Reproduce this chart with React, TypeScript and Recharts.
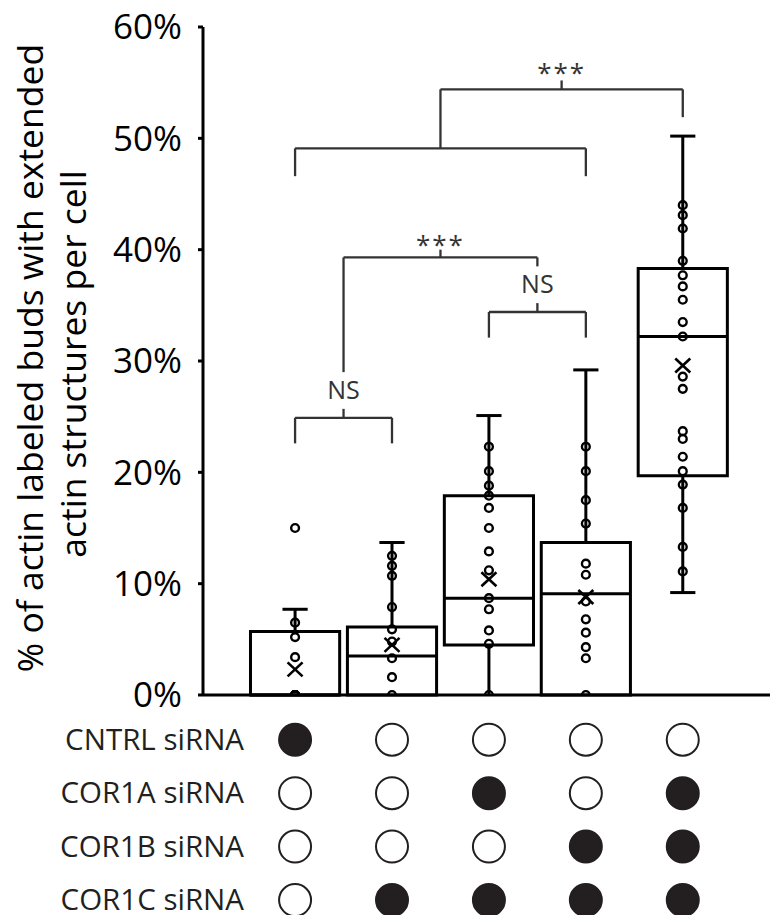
import React from "react";
import {
  ComposedChart,
  Scatter,
  XAxis,
  YAxis,
  ReferenceArea,
  ReferenceLine,
  Label,
} from "recharts";

const GROUPS = [1, 2, 3, 4, 5];
const Y_TICKS = [0, 10, 20, 30, 40, 50, 60];

// box plot stats, % per cell
const MINS = [0, 0, 0, 0, 9.2];
const Q1S = [0, 0, 4.5, 0, 19.7];
const MEDIANS = [0, 3.5, 8.7, 9.1, 32.2];
const Q3S = [5.7, 6.1, 17.9, 13.7, 38.3];
const MAXS = [7.7, 13.7, 25.1, 29.2, 50.2];
const MEANS = [2.3, 4.5, 10.4, 8.8, 29.6];

// individual cells
const POINTS_1 = [15.0, 6.5, 5.2, 3.4, 0, 0, 0, 0, 0, 0, 0, 0, 0];
const POINTS_2 = [12.5, 11.6, 10.7, 7.9, 5.9, 4.8, 3.3, 1.6, 0];
const POINTS_3 = [22.3, 20.1, 18.8, 17.9, 16.8, 15.0, 12.9, 11.2, 8.7, 7.7, 5.8, 4.6, 0];
const POINTS_4 = [22.3, 20.1, 17.5, 15.4, 11.8, 10.8, 8.4, 6.8, 5.6, 4.3, 3.3, 0];
const POINTS_5 = [
  44.0, 43.1, 41.9, 39.0, 37.7, 36.7, 35.5, 33.5, 32.2, 28.6, 27.5, 23.7, 23.0,
  21.4, 20.1, 18.9, 16.8, 13.3, 11.1,
];

// siRNA table (1 = transfected)
const ROW_NAMES = ["CNTRL siRNA", "COR1A siRNA", "COR1B siRNA", "COR1C siRNA"];
const CNTRL = [1, 0, 0, 0, 0];
const COR1A = [0, 0, 1, 0, 1];
const COR1B = [0, 0, 0, 1, 1];
const COR1C = [0, 1, 1, 1, 1];

// significance brackets: [x1, y1, x2, y2]
const BRACKETS = [
  [1, 22.6, 1, 24.9], [1, 24.9, 2, 24.9], [2, 24.9, 2, 22.6], [1.5, 24.9, 1.5, 25.7],
  [1.5, 29.0, 1.5, 39.3], [1.5, 39.3, 3.5, 39.3], [3.5, 39.3, 3.5, 38.5], [2.5, 39.3, 2.5, 40.0],
  [3, 32.1, 3, 34.4], [3, 34.4, 4, 34.4], [4, 34.4, 4, 32.1], [3.5, 34.4, 3.5, 35.2],
  [1, 46.6, 1, 49.1], [1, 49.1, 4, 49.1], [4, 49.1, 4, 46.6], [2.5, 49.1, 2.5, 54.4],
  [2.5, 54.4, 5, 54.4], [5, 54.4, 5, 51.9], [3.75, 54.4, 3.75, 55.2],
];
const SIG_LABELS = [
  { x: 1.5, y: 26.6, label: "NS" },
  { x: 2.5, y: 39.6, label: "***" },
  { x: 3.5, y: 36.1, label: "NS" },
  { x: 3.75, y: 55.1, label: "***" },
];

const FONT = "'Open Sans', sans-serif";
const INK = "#231f20";

const POINTS = [POINTS_1, POINTS_2, POINTS_3, POINTS_4, POINTS_5];
const pointData = POINTS.flatMap((vals, i) => vals.map((v) => ({ x: GROUPS[i], y: v })));
const meanData = GROUPS.map((g, i) => ({ x: g, y: MEANS[i] }));
const tableRows = [CNTRL, COR1A, COR1B, COR1C];
const tableData = tableRows.flatMap((row, r) =>
  row.map((on, i) => ({ x: GROUPS[i], y: r, on }))
);

const OpenDot = (p: any) => (
  <circle cx={p.cx} cy={p.cy} r={3.9} fill="none" stroke="#000" strokeWidth={2.4} />
);

const MeanCross = (p: any) => (
  <g stroke="#000" strokeWidth={2.6}>
    <line x1={p.cx - 7.5} y1={p.cy - 7} x2={p.cx + 7.5} y2={p.cy + 7} />
    <line x1={p.cx - 7.5} y1={p.cy + 7} x2={p.cx + 7.5} y2={p.cy - 7} />
  </g>
);

const SigText = (p: any) => (
  <text
    x={p.cx}
    y={p.cy}
    textAnchor="middle"
    fontFamily={FONT}
    fontSize={p.payload.label === "NS" ? 25 : 26}
    letterSpacing={p.payload.label === "NS" ? 0 : 2}
    fill="#333"
  >
    {p.payload.label}
  </text>
);

const RowCircle = (p: any) => (
  <circle
    cx={p.cx}
    cy={p.cy}
    r={16}
    fill={p.payload.on ? INK : "#fff"}
    stroke={INK}
    strokeWidth={2}
  />
);

const RowTick = (p: any) => (
  <text
    x={p.x + 41}
    y={p.y}
    dy="0.34em"
    textAnchor="end"
    fontFamily={FONT}
    fontSize={29.5}
    fill={INK}
  >
    {ROW_NAMES[p.payload.value]}
  </text>
);

const AxisTitle = (p: any) => {
  const vb = p.viewBox;
  const cy1 = vb.y + vb.height / 2 - 3;
  const cy2 = cy1 + 6;
  return (
    <g fontFamily={FONT} fontSize={35.5} fill="#000" textAnchor="middle">
      <text x={43} y={cy1} transform={`rotate(-90 43 ${cy1})`}>
        % of actin labeled buds with extended
      </text>
      <text x={86} y={cy2} transform={`rotate(-90 86 ${cy2})`}>
        actin structures per cell
      </text>
    </g>
  );
};

export default function App() {
  return (
    <div
      style={{
        position: "absolute",
        left: 0,
        top: 0,
        width: 771,
        height: 915,
        overflow: "hidden",
        background: "#fff",
      }}
    >
      <ComposedChart
        width={771}
        height={720}
        margin={{ top: 27, right: 1, bottom: 20, left: 0 }}
      >
        <XAxis
          type="number"
          dataKey="x"
          domain={[0.05, 5.9]}
          allowDataOverflow
          tick={false}
          tickLine={false}
          height={5}
          axisLine={{ stroke: "#000", strokeWidth: 3 }}
        />
        <YAxis
          type="number"
          dataKey="y"
          domain={[0, 60]}
          ticks={Y_TICKS}
          interval={0}
          allowDataOverflow
          width={203}
          tickFormatter={(v) => `${v}%`}
          tickSize={5}
          tickMargin={16}
          axisLine={{ stroke: "#000", strokeWidth: 3 }}
          tickLine={{ stroke: "#000", strokeWidth: 3 }}
          tick={{ fill: "#000", fontSize: 35, fontFamily: FONT }}
        >
          <Label content={AxisTitle} />
        </YAxis>

        {GROUPS.map((g, i) => (
          <ReferenceArea
            key={`box-${g}`}
            x1={g - 0.46}
            x2={g + 0.46}
            y1={Q1S[i]}
            y2={Q3S[i]}
            fill="#fff"
            fillOpacity={0}
            stroke="#000"
            strokeWidth={3}
            strokeOpacity={1}
            ifOverflow="visible"
          />
        ))}
        {GROUPS.map((g, i) => (
          <ReferenceLine
            key={`med-${g}`}
            segment={[{ x: g - 0.46, y: MEDIANS[i] }, { x: g + 0.46, y: MEDIANS[i] }]}
            stroke="#000"
            strokeWidth={3}
            ifOverflow="visible"
          />
        ))}
        {GROUPS.map((g, i) => (
          <ReferenceLine
            key={`wu-${g}`}
            segment={[{ x: g, y: Q3S[i] }, { x: g, y: MAXS[i] }]}
            stroke="#000"
            strokeWidth={3}
            ifOverflow="visible"
          />
        ))}
        {GROUPS.map((g, i) => (
          <ReferenceLine
            key={`cu-${g}`}
            segment={[{ x: g - 0.13, y: MAXS[i] }, { x: g + 0.13, y: MAXS[i] }]}
            stroke="#000"
            strokeWidth={3}
            ifOverflow="visible"
          />
        ))}
        {GROUPS.filter((g, i) => Q1S[i] > MINS[i]).map((g) => {
          const i = g - 1;
          return (
            <ReferenceLine
              key={`wl-${g}`}
              segment={[{ x: g, y: MINS[i] }, { x: g, y: Q1S[i] }]}
              stroke="#000"
              strokeWidth={3}
              ifOverflow="visible"
            />
          );
        })}
        {GROUPS.filter((g, i) => MINS[i] > 0).map((g) => {
          const i = g - 1;
          return (
            <ReferenceLine
              key={`cl-${g}`}
              segment={[{ x: g - 0.13, y: MINS[i] }, { x: g + 0.13, y: MINS[i] }]}
              stroke="#000"
              strokeWidth={3}
              ifOverflow="visible"
            />
          );
        })}
        {BRACKETS.map((b, k) => (
          <ReferenceLine
            key={`br-${k}`}
            segment={[{ x: b[0], y: b[1] }, { x: b[2], y: b[3] }]}
            stroke="#333"
            strokeWidth={2.3}
            ifOverflow="visible"
          />
        ))}

        <Scatter data={pointData} shape={OpenDot} isAnimationActive={false} />
        <Scatter data={meanData} shape={MeanCross} isAnimationActive={false} />
        <Scatter data={SIG_LABELS} shape={SigText} isAnimationActive={false} />
      </ComposedChart>

      <div style={{ position: "absolute", left: 0, top: 700 }}>
        <ComposedChart
          width={771}
          height={215}
          margin={{ top: 13, right: 1, bottom: 0, left: 0 }}
        >
          <XAxis type="number" dataKey="x" domain={[0.05, 5.9]} hide />
          <YAxis
            type="number"
            dataKey="y"
            domain={[-0.5, 3.28]}
            reversed
            ticks={[0, 1, 2, 3]}
            interval={0}
            width={203}
            axisLine={false}
            tickLine={false}
            tickSize={0}
            tickMargin={0}
            tick={RowTick}
          />
          <Scatter data={tableData} shape={RowCircle} isAnimationActive={false} />
        </ComposedChart>
      </div>
    </div>
  );
}
